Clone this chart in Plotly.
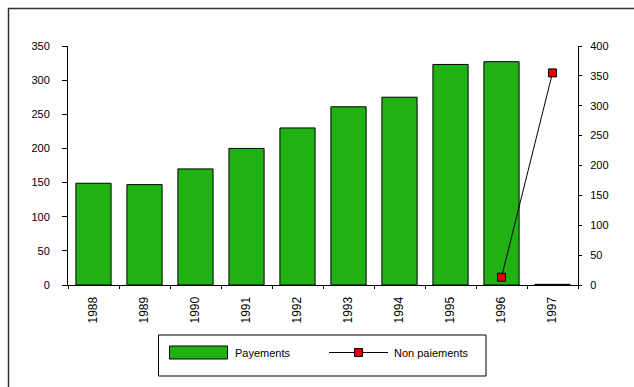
import plotly.graph_objects as go

years = ["1988", "1989", "1990", "1991", "1992", "1993", "1994", "1995", "1996", "1997"]
payements = [149, 147, 170, 200, 230, 261, 275, 323, 327, 1]
non_paiements = [None, None, None, None, None, None, None, None, 13, 355]
left_ticks = [0, 50, 100, 150, 200, 250, 300, 350]
right_ticks = [0, 50, 100, 150, 200, 250, 300, 350, 400]

W, H = 634, 387
L, R, T, B = 68, 56, 46, 102
PW, PH = W - L - R, H - T - B


def px(x):
    return (x - L) / PW


def py(y):
    return (H - B - y) / PH


FONT = "Liberation Sans, Arial, sans-serif"
GREEN = "rgb(32,178,20)"
RED = "rgb(228,0,0)"

fig = go.Figure()
fig.add_trace(go.Bar(
    x=years, y=payements, name="Payements",
    marker=dict(color=GREEN, line=dict(color="black", width=1)),
    yaxis="y", xaxis="x",
))
fig.add_trace(go.Scatter(
    x=years, y=non_paiements, name="Non paiements", mode="lines+markers",
    line=dict(color="black", width=1),
    marker=dict(symbol="square", size=8, color=RED, line=dict(color="black", width=1)),
    yaxis="y2", xaxis="x", connectgaps=False,
))

common = dict(showgrid=False, zeroline=False, tickcolor="black", tickwidth=1)

fig.update_layout(
    width=W, height=H,
    margin=dict(l=L, r=R, t=T, b=B, pad=0),
    paper_bgcolor="white", plot_bgcolor="white",
    showlegend=False,
    bargap=0.31,
    font=dict(family=FONT, size=11, color="black"),
    xaxis=dict(type="category", categoryarray=years, range=[-0.5, 9.5],
               tickson="boundaries", ticks="outside", ticklen=3,
               showline=True, linecolor="black", linewidth=1,
               tickangle=-90, tickfont=dict(size=12), ticklabelstandoff=6,
               **common),
    xaxis2=dict(overlaying="x", anchor="y", side="bottom", range=[-0.5, 9.5],
                tickvals=[i - 0.5 for i in range(len(years) + 1)],
                ticks="inside", ticklen=3, showticklabels=False, showline=False,
                **common),
    yaxis=dict(range=[0, 350], tickvals=left_ticks, ticks="outside", ticklen=5,
               showline=True, linecolor="black", linewidth=1,
               ticklabelstandoff=10, **common),
    yaxis3=dict(overlaying="y", anchor="x", side="left", range=[0, 350],
                tickvals=left_ticks, ticks="inside", ticklen=4,
                showticklabels=False, showline=False, **common),
    yaxis2=dict(overlaying="y", anchor="x", side="right", range=[0, 400],
                tickvals=right_ticks, ticks="outside", ticklen=3,
                showline=True, linecolor="black", linewidth=1,
                ticklabelstandoff=6, **common),
    yaxis4=dict(overlaying="y", anchor="x", side="right", range=[0, 400],
                tickvals=right_ticks, ticks="inside", ticklen=4,
                showticklabels=False, showline=False, **common),
)

shapes = []
# outer frame
shapes.append(dict(type="rect", xref="paper", yref="paper",
                   x0=px(8.5), x1=px(700), y0=py(450), y1=py(8.5),
                   line=dict(color="#333333", width=1.5), fillcolor="rgba(0,0,0,0)", layer="below"))
# legend box
shapes.append(dict(type="rect", xref="paper", yref="paper",
                   x0=px(158.5), x1=px(486), y0=py(376), y1=py(335),
                   line=dict(color="black", width=1), fillcolor="white"))
# green swatch
shapes.append(dict(type="rect", xref="paper", yref="paper",
                   x0=px(169.5), x1=px(227.5), y0=py(359), y1=py(346),
                   line=dict(color="black", width=1), fillcolor=GREEN))
# line swatch
shapes.append(dict(type="line", xref="paper", yref="paper",
                   x0=px(329), x1=px(388), y0=py(352.5), y1=py(352.5),
                   line=dict(color="black", width=1)))
shapes.append(dict(type="rect", xref="paper", yref="paper",
                   x0=px(354.5), x1=px(362.5), y0=py(356.5), y1=py(348.5),
                   line=dict(color="black", width=1), fillcolor=RED))
fig.update_layout(shapes=shapes)

fig.add_annotation(text="Payements", xref="paper", yref="paper", x=px(233), y=py(352.5),
                   xanchor="left", yanchor="middle", showarrow=False,
                   font=dict(family=FONT, size=11, color="black"))
fig.add_annotation(text="Non paiements", xref="paper", yref="paper", x=px(392), y=py(352.5),
                   xanchor="left", yanchor="middle", showarrow=False,
                   font=dict(family=FONT, size=11, color="black"))

fig.write_html("out.html")
